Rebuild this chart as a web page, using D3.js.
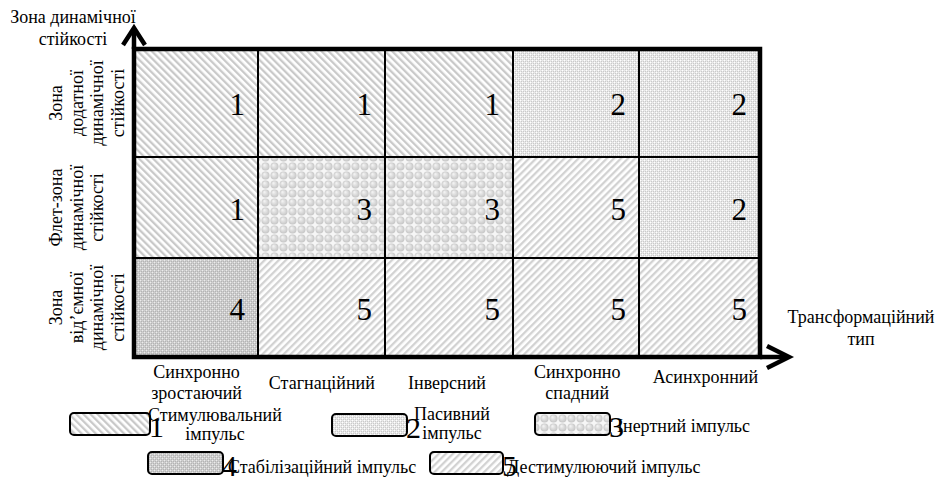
<!DOCTYPE html>
<html>
<head>
<meta charset="utf-8">
<script src="https://cdn.jsdelivr.net/npm/d3@7"></script>
<style>
  body { margin: 0; background: #fff; }
</style>
</head>
<body>
<svg id="chart" width="941" height="477" font-family="'Liberation Serif', Tinos, 'Times New Roman', 'DejaVu Serif', 'Noto Serif', serif"></svg>
<script>
// chart data
var colLabels = [["Синхронно", "зростаючий"], ["Стагнаційний"], ["Інверсний"], ["Синхронно", "спадний"], ["Асинхронний"]];
var rowLabels = [["Зона", "додатної", "динамічної", "стійкості"],
                 ["Флет-зона", "динамічної", "стійкості"],
                 ["Зона", "від’ємної", "динамічної", "стійкості"]];
var cellValues = [[1, 1, 1, 2, 2],
                  [1, 3, 3, 5, 2],
                  [4, 5, 5, 5, 5]];
var impulseCodes = [1, 2, 3, 4, 5];
var impulseNames = [["Стимулювальний", "імпульс"], ["Пасивний", "імпульс"], ["Інертний імпульс"],
                    ["Стабілізаційний імпульс"], ["Дестимулюючий імпульс"]];
var yTitle = ["Зона динамічної", "стійкості"];
var xTitle = ["Трансформаційний", "тип"];

var FONT = "'Liberation Serif', Tinos, 'Times New Roman', 'DejaVu Serif', 'Noto Serif', serif";
var svg = d3.select("#chart");
var defs = svg.append("defs");

// fill patterns, one per impulse type
function stripes(id, angle, color) {
	var p = defs.append("pattern").attr("id", id)
		.attr("patternUnits", "userSpaceOnUse")
		.attr("width", 5).attr("height", 5)
		.attr("patternTransform", "rotate(" + angle + ")");
	p.append("rect").attr("width", 5).attr("height", 5).attr("fill", "#fff");
	p.append("rect").attr("x", 0).attr("width", 2.3).attr("height", 5).attr("fill", color);
}
stripes("p1", -45, "#c9c9c9");
stripes("p5", 45, "#d2d2d2");

function checker(id, bg, light, dark) {
	var p = defs.append("pattern").attr("id", id)
		.attr("patternUnits", "userSpaceOnUse")
		.attr("width", 4).attr("height", 4);
	p.append("rect").attr("width", 4).attr("height", 4).attr("fill", bg);
	[[0, 0], [2, 2]].forEach(function(d) {
		p.append("rect").attr("x", d[0]).attr("y", d[1]).attr("width", 1).attr("height", 1).attr("fill", light);
	});
	[[1, 1], [3, 3], [1, 3], [3, 1]].forEach(function(d) {
		p.append("rect").attr("x", d[0]).attr("y", d[1]).attr("width", 1).attr("height", 1).attr("fill", dark);
	});
}
checker("p2", "#e8e8e8", "#ffffff", "#cacaca");
checker("p4", "#cdcdcd", "#ececec", "#b4b4b4");

var grad = defs.append("radialGradient").attr("id", "sph")
	.attr("cx", "50%").attr("cy", "50%").attr("r", "55%")
	.attr("fx", "35%").attr("fy", "30%");
grad.append("stop").attr("offset", "0%").attr("stop-color", "#f6f6f6");
grad.append("stop").attr("offset", "100%").attr("stop-color", "#c2c2c2");
var p3 = defs.append("pattern").attr("id", "p3")
	.attr("patternUnits", "userSpaceOnUse")
	.attr("width", 9).attr("height", 9);
p3.append("rect").attr("width", 9).attr("height", 9).attr("fill", "#f6f6f6");
p3.append("circle").attr("cx", 4.5).attr("cy", 4.5).attr("r", 4).attr("fill", "url(#sph)");

function fillFor(v) { return "url(#p" + v + ")"; }

// scales: column and row edges of the table
var x = d3.scaleLinear().domain([0, 1, 2, 3, 4, 5]).range([134, 258, 385, 513, 639, 760]);
var y = d3.scaleLinear().domain([0, 1, 2, 3]).range([49, 157, 258, 357]);

var cells = [];
cellValues.forEach(function(row, r) {
	row.forEach(function(v, c) { cells.push({r: r, c: c, v: v}); });
});

svg.append("g").selectAll("rect")
	.data(cells)
	.enter()
	.append("rect")
	.attr("x", function(d) { return x(d.c); })
	.attr("y", function(d) { return y(d.r); })
	.attr("width", function(d) { return x(d.c + 1) - x(d.c); })
	.attr("height", function(d) { return y(d.r + 1) - y(d.r); })
	.attr("fill", function(d) { return fillFor(d.v); })
	.attr("stroke", "#000")
	.attr("stroke-width", 2);

svg.append("g").selectAll("text")
	.data(cells)
	.enter()
	.append("text")
	.attr("x", function(d) { return x(d.c + 1) - 13; })
	.attr("y", function(d) { return (y(d.r) + y(d.r + 1)) / 2 + 12; })
	.attr("text-anchor", "end")
	.style("font-size", "31px")
	.text(function(d) { return d.v; });

// outer frame
svg.append("rect")
	.attr("x", x(0)).attr("y", y(0))
	.attr("width", x(5) - x(0)).attr("height", y(3) - y(0))
	.attr("fill", "none").attr("stroke", "#000").attr("stroke-width", 4.5);

// arrows
svg.append("line").attr("x1", x(0)).attr("y1", y(0)).attr("x2", x(0)).attr("y2", 29)
	.attr("stroke", "#000").attr("stroke-width", 4.5);
svg.append("polyline").attr("points", [[x(0) - 11, 45], [x(0), 28], [x(0) + 11, 45]].join(" "))
	.attr("fill", "none").attr("stroke", "#000").attr("stroke-width", 4.5);
svg.append("line").attr("x1", x(5)).attr("y1", y(3)).attr("x2", 788).attr("y2", y(3))
	.attr("stroke", "#000").attr("stroke-width", 4.5);
svg.append("polyline").attr("points", [[767, y(3) - 11], [789, y(3)], [767, y(3) + 11]].join(" "))
	.attr("fill", "none").attr("stroke", "#000").attr("stroke-width", 4.5);

// column labels through a bottom axis
var xBand = d3.scaleBand().domain(d3.range(5)).range([x(0), x(5)]);
var colShift = [0, 0, 0, 5, 8];
var xAxis = svg.append("g")
	.attr("transform", "translate(0," + y(3) + ")")
	.call(d3.axisBottom(xBand).tickSize(0).tickFormat(""))
	.attr("font-family", FONT);
xAxis.select(".domain").remove();
xAxis.selectAll(".tick").each(function(i) {
	var t = d3.select(this).select("text")
		.attr("y", 0).attr("dy", null)
		.attr("x", colShift[i])
		.style("font-size", "18px")
		.attr("fill", "#000");
	var lines = colLabels[i];
	var y0 = lines.length == 2 ? 21 : (i == 4 ? 26 : 32);
	lines.forEach(function(s, k) {
		t.append("tspan").attr("x", colShift[i]).attr("y", y0 + k * 21).text(s);
	});
});

// row labels, rotated
svg.append("g").selectAll("text")
	.data(rowLabels)
	.enter()
	.append("text")
	.attr("transform", function(d, i) {
		return "translate(62," + (y(i) + y(i + 1)) / 2 + ") rotate(-90)";
	})
	.attr("text-anchor", "middle")
	.style("font-size", "18px")
	.each(function(d) {
		var t = d3.select(this);
		d.forEach(function(s, k) {
			t.append("tspan").attr("x", 0).attr("y", k * 20.5).text(s);
		});
	});

// axis titles
var yt = svg.append("text").attr("text-anchor", "middle").style("font-size", "18px");
yTitle.forEach(function(s, k) {
	yt.append("tspan").attr("x", 73).attr("y", 23 + k * 22).text(s);
});
var xt = svg.append("text").attr("text-anchor", "middle").style("font-size", "18px");
xTitle.forEach(function(s, k) {
	xt.append("tspan").attr("x", 861).attr("y", 323 + k * 22).text(s);
});

// legend
var legendPos = [
	{bx: 70, by: 413, w: 80, tx: 215, ty: 421, anchor: "middle"},
	{bx: 332, by: 414, w: 75, tx: 452, ty: 420, anchor: "middle"},
	{bx: 535, by: 413, w: 75, tx: 617, ty: 432, anchor: "start"},
	{bx: 148, by: 452, w: 75, tx: 228, ty: 473, anchor: "start"},
	{bx: 430, by: 452, w: 73, tx: 507, ty: 473, anchor: "start"}
];
var legend = svg.append("g").selectAll("g")
	.data(impulseCodes)
	.enter()
	.append("g");
legend.append("rect")
	.attr("x", function(d, i) { return legendPos[i].bx; })
	.attr("y", function(d, i) { return legendPos[i].by; })
	.attr("width", function(d, i) { return legendPos[i].w; })
	.attr("height", 22)
	.attr("rx", 4)
	.attr("fill", function(d) { return fillFor(d); })
	.attr("stroke", "#000").attr("stroke-width", 2);
legend.append("text")
	.attr("x", function(d, i) { return legendPos[i].bx + legendPos[i].w - 1; })
	.attr("y", function(d, i) { return legendPos[i].by + 24; })
	.style("font-size", "30px")
	.text(function(d) { return d; });
legend.append("text")
	.attr("text-anchor", function(d, i) { return legendPos[i].anchor; })
	.style("font-size", "18px")
	.each(function(d, i) {
		var t = d3.select(this);
		impulseNames[i].forEach(function(s, k) {
			t.append("tspan").attr("x", legendPos[i].tx).attr("y", legendPos[i].ty + k * 19).text(s);
		});
	});
</script>
</body>
</html>
